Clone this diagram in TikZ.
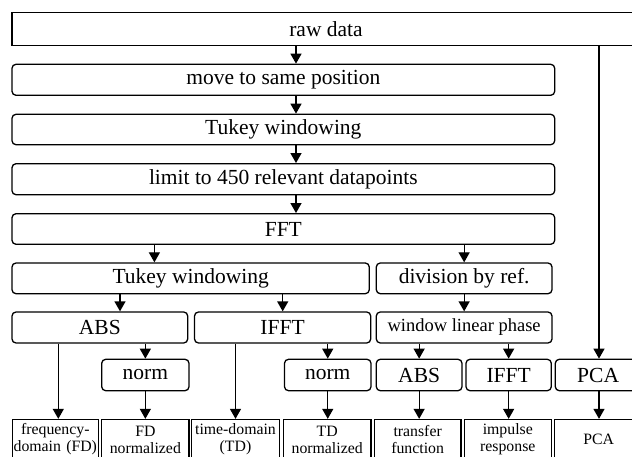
\documentclass[tikz,border=0pt]{standalone}
\usepackage{fontspec}
\setmainfont{Liberation Serif}
\usetikzlibrary{arrows.meta}
\tikzset{
  rbox/.style={draw, line width=1.3pt, rounded corners=4pt, inner sep=0pt, anchor=center,
    font=\fontsize{21.5}{24}\selectfont},
  sbox/.style={draw, line width=1.3pt, inner sep=0pt, anchor=center, align=center,
    font=\fontsize{15.8}{17}\selectfont},
  arr/.style={line width=1.3pt, -{Triangle[length=10pt,width=11pt]}}
}
\begin{document}
\begin{tikzpicture}[x=1pt,y=1pt]
\clip (0,0) rectangle (632,-457);
\fill[white] (0,0) rectangle (632,-457);
% column helpers
\coordinate (xm) at (296,0);
\coordinate (xa) at (154.4,0);
\coordinate (xb) at (120,0);
\coordinate (xc) at (282.7,0);
\coordinate (xd) at (58.3,0);
\coordinate (xp) at (599,0);
% rows
\node[rbox, rounded corners=0pt, minimum width=628, minimum height=33] (raw) at (326,-28.8) {raw data};
\node[rbox, minimum width=542.7, minimum height=31] (mv) at (283.35,-79.8) {move to same position};
\node[rbox, minimum width=542.7, minimum height=30.4] (tk1) at (283.35,-129.5) {Tukey windowing};
\node[rbox, minimum width=542.7, minimum height=31] (lim) at (283.35,-179.2) {limit to 450 relevant datapoints};
\node[rbox, minimum width=542.7, minimum height=30.6] (fft) at (283.35,-229) {FFT};
\node[rbox, minimum width=357.3, minimum height=30.7] (tk2) at (190.65,-278.35) {Tukey windowing};
\node[rbox, minimum width=175.7, minimum height=30.7] (div) at (464.15,-278.35) {division by ref.};
\node[rbox, minimum width=175.7, minimum height=31] (abs1) at (99.85,-327.5) {ABS};
\node[rbox, minimum width=176.2, minimum height=31] (ifft1) at (282.6,-327.5) {IFFT};
\node[rbox, minimum width=175.7, minimum height=31, font=\fontsize{18.5}{21}\selectfont] (win) at (464.15,-327.5) {window linear phase};
\node[rbox, minimum width=87.3, minimum height=31.4] (norm1) at (145.35,-375) {norm};
\node[rbox, minimum width=86.5, minimum height=31.4] (norm2) at (327.75,-375) {norm};
\node[rbox, minimum width=85.7, minimum height=31.4] (abs2) at (419.15,-375) {ABS};
\node[rbox, minimum width=85.3, minimum height=31.4] (ifft2) at (508.65,-375) {IFFT};
\node[rbox, minimum width=85.7, minimum height=31.4] (pca1) at (598.15,-375) {PCA};
% bottom row
\node[sbox, minimum width=86, minimum height=40, text width=86] (b1) at (55.3,-439.5) {frequency-\\domain (FD)};
\node[sbox, minimum width=87.3, minimum height=40, text width=87.3] (b2) at (145.35,-439.5) {FD\\normalized};
\node[sbox, minimum width=87.6, minimum height=40, text width=87.6] (b3) at (235.5,-439.5) {time-domain\\(TD)};
\node[sbox, minimum width=87.7, minimum height=40, text width=87.7] (b4) at (327.15,-439.5) {TD\\normalized};
\node[sbox, minimum width=86.7, minimum height=40, text width=86.7] (b5) at (417.65,-439.5) {transfer\\function};
\node[sbox, minimum width=87, minimum height=40, text width=87] (b6) at (507.8,-439.5) {impulse\\response};
\node[sbox, minimum width=88.7, minimum height=40, text width=88.7] (b7) at (598.65,-439.5) {PCA};
% connectors
\draw[arr] (raw.south -| xm) -- (mv.north -| xm);
\draw[arr] (mv.south -| xm) -- (tk1.north -| xm);
\draw[arr] (tk1.south -| xm) -- (lim.north -| xm);
\draw[arr] (lim.south -| xm) -- (fft.north -| xm);
\draw[arr] (fft.south -| xa) -- (tk2.north -| xa);
\draw[arr] (fft.south -| div.north) -- (div.north);
\draw[arr] (tk2.south -| xb) -- (abs1.north -| xb);
\draw[arr] (tk2.south -| xc) -- (ifft1.north -| xc);
\draw[arr] (div.south) -- (win.north);
\draw[arr] (abs1.south -| xd) -- (b1.north -| xd);
\draw[arr] (abs1.south -| norm1.north) -- (norm1.north);
\draw[arr] (norm1.south) -- (b2.north -| norm1.south);
\draw[arr] (ifft1.south -| b3.north) -- (b3.north);
\draw[arr] (ifft1.south -| norm2.north) -- (norm2.north);
\draw[arr] (norm2.south) -- (b4.north -| norm2.south);
\draw[arr] (win.south -| abs2.north) -- (abs2.north);
\draw[arr] (win.south -| ifft2.north) -- (ifft2.north);
\draw[arr] (abs2.south) -- (b5.north -| abs2.south);
\draw[arr] (ifft2.south) -- (b6.north -| ifft2.south);
\draw[arr] (raw.south -| xp) -- (pca1.north -| xp);
\draw[arr] (pca1.south -| xp) -- (b7.north -| xp);
\end{tikzpicture}
\end{document}
